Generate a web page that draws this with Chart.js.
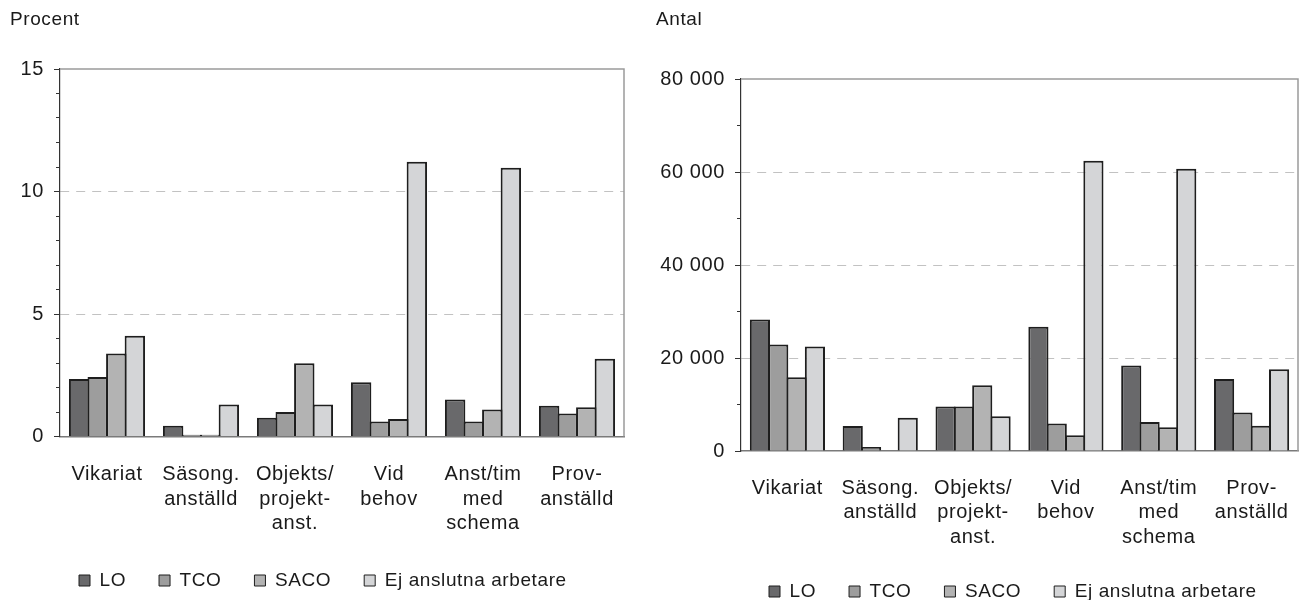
<!DOCTYPE html>
<html><head><meta charset="utf-8">
<script src="https://cdn.jsdelivr.net/npm/chart.js@4"></script>
<style>
html,body{margin:0;padding:0;background:#fff;overflow:hidden;width:1307px;height:600px}
#l{position:absolute;left:0;top:0;width:640px;height:600px}
#r{position:absolute;left:640px;top:0;width:667px;height:611px}
</style></head><body>
<div id="l"><canvas id="c1"></canvas></div>
<div id="r"><canvas id="c2"></canvas></div>
<script>
// ---- data ----
const categories = ["Vikariat", ["Säsong.", "anställd"], ["Objekts/", "projekt-", "anst."], ["Vid", "behov"], ["Anst/tim", "med", "schema"], ["Prov-", "anställd"]];
const seriesNames = ["LO", "TCO", "SACO", "Ej anslutna arbetare"];
const seriesColors = ["#69696b", "#9d9d9d", "#b3b3b3", "#d4d5d7"];

const procentLO   = [2.35, 0.44, 0.77, 2.21, 1.51, 1.26];
const procentTCO  = [2.43, 0.07, 1.00, 0.61, 0.61, 0.94];
const procentSACO = [3.39, 0.07, 2.99, 0.71, 1.10, 1.19];
const procentEj   = [4.11, 1.31, 1.31, 11.21, 10.97, 3.17];

const antalLO   = [28300, 5350, 9550, 26700, 18400, 15500];
const antalTCO  = [22900, 850, 9550, 5900, 6250, 8300];
const antalSACO = [15850, 0, 14150, 3400, 5100, 5450];
const antalEj   = [22500, 7150, 7450, 62400, 60700, 17600];

const procentTicks = [0, 5, 10, 15];
const antalTicks = [0, 20000, 40000, 60000, 80000];
const procentTitle = "Procent";
const antalTitle = "Antal";

// ---- helpers ----
const FONT = "'Liberation Sans', Arial, Helvetica, sans-serif";
const TXT = "#1a1a1a";
function fmtThousands(v) { return String(v).replace(/\B(?=(\d{3})+(?!\d))/g, " "); }

const spacingPlugin = {
  id: "spacing",
  beforeUpdate(chart) { chart.ctx.letterSpacing = "0.6px"; },
  beforeLayout(chart) { chart.ctx.letterSpacing = "0.6px"; },
  beforeDraw(chart) { chart.ctx.letterSpacing = "0.6px"; }
};

const framePlugin = {
  id: "frame",
  afterDatasetsDraw(chart) {
    const a = chart.chartArea, ctx = chart.ctx;
    ctx.save();
    ctx.strokeStyle = "#9a9a9a";
    ctx.lineWidth = 1.5;
    ctx.beginPath();
    ctx.moveTo(a.left, a.top);
    ctx.lineTo(a.right, a.top);
    ctx.lineTo(a.right, a.bottom);
    ctx.stroke();
    ctx.restore();
  }
};

function makeChart(id, seriesData, ticksArr, minorStep, title, geo) {
  const max = ticksArr[ticksArr.length - 1];
  const major = ticksArr[1] - ticksArr[0];
  const legendShift = {
    id: "legendShift",
    afterLayout(chart) { if (chart.legend) chart.legend.left = geo.legendLeft; }
  };
  return new Chart(document.getElementById(id), {
    type: "bar",
    data: {
      labels: categories,
      datasets: seriesData.map((d, i) => ({
        label: seriesNames[i],
        data: d,
        backgroundColor: seriesColors[i],
        borderColor: "#1e1e1e",
        borderWidth: 2,
        categoryPercentage: 0.79,
        barPercentage: 1.1
      }))
    },
    options: {
      responsive: true,
      maintainAspectRatio: false,
      animation: false,
      events: [],
      layout: { padding: { left: geo.padLeft, right: geo.padRight, top: 0, bottom: 0 } },
      plugins: {
        tooltip: { enabled: false },
        title: {
          display: true, text: title, align: "start", color: TXT,
          font: { family: FONT, size: 19, weight: "normal" },
          padding: { top: 8, bottom: geo.titleBottom }
        },
        legend: {
          position: "bottom", align: "start",
          labels: {
            boxWidth: 11, boxHeight: 11, padding: 33, color: TXT,
            font: { family: FONT, size: 19 },
            generateLabels(chart) {
              return Chart.defaults.plugins.legend.labels.generateLabels(chart).map(l => Object.assign(l, { lineWidth: 1, strokeStyle: "#1e1e1e" }));
            }
          }
        }
      },
      scales: {
        x: {
          grid: { display: false },
          border: { display: true, color: "#7a7a7a", width: 1.5 },
          ticks: { color: TXT, font: { family: FONT, size: 20, lineHeight: 1.225 }, padding: geo.xPad, maxRotation: 0, autoSkip: false },
          afterFit(s) { s.height = geo.xH; }
        },
        y: {
          position: "left", weight: 1, min: 0, max: max,
          ticks: { stepSize: major, padding: 10, color: TXT, font: { family: FONT, size: 20 },
                   callback: v => ticksArr.includes(v) ? fmtThousands(v) : "" },
          grid: {
            color: c => (c.tick && c.tick.value > 0 && c.tick.value < max) ? "#c2c2c2" : "rgba(0,0,0,0)",
            lineWidth: 1, tickColor: "#333", tickLength: 6, tickWidth: 1
          },
          border: { display: true, color: "#333", width: 1.2, dash: [9, 7] },
          afterFit(s) { s.width = geo.yW; }
        },
        y2: {
          position: "left", weight: 0, min: 0, max: max,
          ticks: { display: false, stepSize: minorStep },
          grid: { drawOnChartArea: false, tickLength: 4, tickColor: "#333", tickWidth: 1 },
          border: { display: false },
          afterFit(s) { s.width = 0; }
        }
      }
    },
    plugins: [spacingPlugin, framePlugin, legendShift]
  });
}

makeChart("c1", [procentLO, procentTCO, procentSACO, procentEj], procentTicks, 1, procentTitle,
  { padLeft: 10, padRight: 16, yW: 50, titleBottom: 38.2, xH: 101.5, xPad: 18, legendLeft: 46 });
makeChart("c2", [antalLO, antalTCO, antalSACO, antalEj], antalTicks, 10000, antalTitle,
  { padLeft: 16, padRight: 9, yW: 85, titleBottom: 48.2, xH: 98, xPad: 17, legendLeft: 96 });
</script>
</body></html>
